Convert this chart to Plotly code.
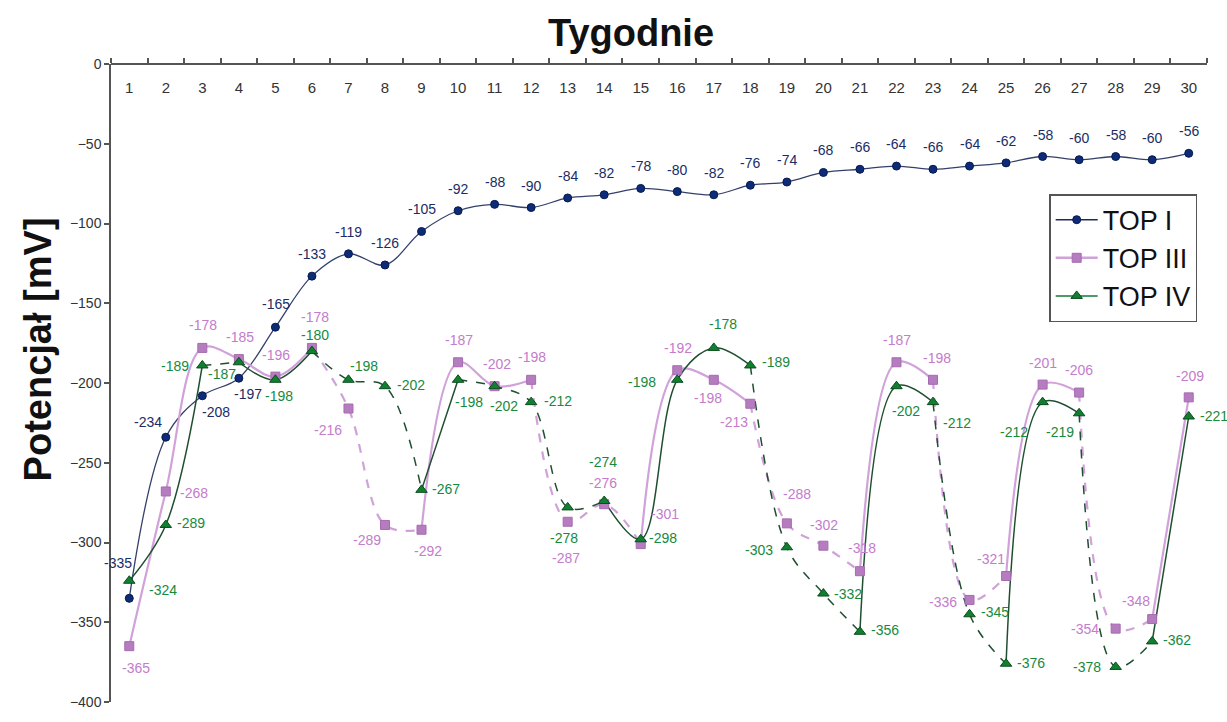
import plotly.graph_objects as go

# ---------------- data ----------------
weeks = list(range(1, 31))
week_labels = [str(w) for w in weeks]

top1 = [-335, -234, -208, -197, -165, -133, -119, -126, -105, -92,
        -88, -90, -84, -82, -78, -80, -82, -76, -74, -68,
        -66, -64, -66, -64, -62, -58, -60, -58, -60, -56]
top3 = [-365, -268, -178, -185, -196, -178, -216, -289, -292, -187,
        -202, -198, -287, -276, -301, -192, -198, -213, -288, -302,
        -318, -187, -198, -336, -321, -201, -206, -354, -348, -209]
top4 = [-324, -289, -189, -187, -198, -180, -198, -202, -267, -198,
        -202, -212, -278, -274, -298, -198, -178, -189, -303, -332,
        -356, -202, -212, -345, -376, -212, -219, -378, -362, -221]

series_names = ["TOP I", "TOP III", "TOP IV"]
y_ticks = [0, -50, -100, -150, -200, -250, -300, -350, -400]

# segment styles between consecutive weeks (s = solid, d = dashed)
seg1 = "s" * 29
seg3 = "sssss" "ddd" "sss" "ddd" "sss" "ddd" "ss" "dd" "ss" "dd" "s"
seg4 = "ss" "d" "ss" "ddd" "s" "dddd" "ssss" "ddd" "ss" "dd" "ss" "dd" "s"

# label offsets in pixels (dx right, dy down) relative to each marker
off1 = [(-11, -35), (-18, -15), (14, 16), (9, 16), (1, -23)] + [(0, -22)] * 25
off3 = [(7, 22), (28, 2), (1, -23), (1, -22), (1, -22), (3, -31), (-20, 21), (-18, 15),
        (6, 21), (1, -22), (2, -22), (1, -23), (-2, 36), (-1, -21), (24, -30),
        (1, -22), (-6, 18), (-16, 18), (10, -29), (1, -21), (2, -23), (1, -22),
        (4, -22), (-27, 2), (-15, -17), (0, -22), (0, -23), (-31, 0), (-16, -18), (1, -21)]
off4 = [(34, 9), (25, -2), (-27, 1), (-17, 12), (4, 16), (3, -16), (16, -14), (26, -1),
        (24, -1), (11, 22), (9, 20), (27, -1), (-4, 31), (-1, -39), (22, -1),
        (-35, 2), (9, -24), (26, -3), (-28, 3), (25, 0), (25, -2), (10, 25),
        (24, 21), (25, -2), (25, -1), (-29, 30), (-19, 19), (-29, 0), (25, -1), (25, -1)]

# ---------------- styles ----------------
LABEL_FONT = "Liberation Sans, Arial"
styles = [
    dict(line="#34406a", lw=1.3, mcolor="#0d2b78", mline="#061a4d", symbol="circle", msize=8,
         tcolor="#1b2c66", legline="#1b2c5c"),
    dict(line="#d0a2d9", lw=2.2, mcolor="#b67cc0", mline="#a66ab0", symbol="square", msize=9,
         tcolor="#c47ccc", legline="#d0a2d9"),
    dict(line="#1f4f30", lw=1.5, mcolor="#108030", mline="#0b4d1e", symbol="triangle-up", msize=10,
         tcolor="#168a3e", legline="#157a35"),
]

fig = go.Figure()


def runs(seg):
    out = []
    start = 0
    for i in range(1, len(seg) + 1):
        if i == len(seg) or seg[i] != seg[start]:
            out.append((start, i, seg[start]))
            start = i
    return out


all_vals = [top1, top3, top4]
all_segs = [seg1, seg3, seg4]
all_offs = [off1, off3, off4]

# lines
for vals, seg, st in zip(all_vals, all_segs, styles):
    for a, b, kind in runs(seg):
        fig.add_trace(go.Scatter(
            x=weeks[a:b + 1], y=vals[a:b + 1], mode="lines",
            line=dict(color=st["line"], width=st["lw"], shape="spline", smoothing=1.0,
                      dash="solid" if kind == "s" else "dash"),
            showlegend=False, hoverinfo="skip"))

# markers
for vals, st, name in zip(all_vals, styles, series_names):
    fig.add_trace(go.Scatter(
        x=weeks, y=vals, mode="markers",
        marker=dict(symbol=st["symbol"], size=st["msize"], color=st["mcolor"],
                    line=dict(color=st["mline"], width=1)),
        showlegend=False, name=name))

# legend entries
for st, name in zip(styles, series_names):
    fig.add_trace(go.Scatter(
        x=[None], y=[None], mode="lines+markers", name=name,
        line=dict(color=st["legline"], width=1.5 if name != "TOP III" else 2.5),
        marker=dict(symbol=st["symbol"], size=st["msize"], color=st["mcolor"],
                    line=dict(color=st["mline"], width=1))))

# data labels
annotations = []
for vals, offs, st in zip(all_vals, all_offs, styles):
    for w, v, (dx, dy) in zip(weeks, vals, offs):
        annotations.append(dict(
            x=w, y=v, xref="x", yref="y", text=str(v), showarrow=False,
            xshift=dx, yshift=-dy, xanchor="center", yanchor="middle",
            font=dict(family=LABEL_FONT, size=14, color=st["tcolor"])))

annotations += [
    dict(text="<b>Tygodnie</b>", xref="paper", yref="paper", x=0.4745, y=1.048,
         xanchor="center", yanchor="middle", showarrow=False,
         font=dict(family="Liberation Sans, Arial", size=38, color="#111")),
    dict(text="<b>Potencjał [mV]</b>", xref="paper", yref="paper", x=-0.067, y=0.552,
         xanchor="center", yanchor="middle", textangle=-90, showarrow=False,
         font=dict(family="Liberation Sans, Arial", size=38, color="#111")),
]

fig.update_layout(
    width=1227, height=722,
    paper_bgcolor="white", plot_bgcolor="white",
    margin=dict(l=111, r=20, t=64, b=17),
    font=dict(family="Liberation Sans, Arial", color="#333"),
    showlegend=True,
    legend=dict(x=0.856, y=0.796, xanchor="left", yanchor="top",
                bgcolor="white", bordercolor="#555", borderwidth=1.5,
                font=dict(family="Liberation Sans, Arial", size=27, color="#111"),
                itemwidth=42),
    xaxis=dict(side="bottom", anchor="free", position=1.0,
               range=[0.5, 30.5], tickmode="array", tickvals=weeks,
               ticktext=week_labels, ticks="", ticklabelstandoff=10,
               tickfont=dict(family=LABEL_FONT, size=15, color="#333"),
               showline=True, linecolor="#555", linewidth=1.5, showgrid=False, zeroline=False,
               automargin=False,
               minor=dict(tick0=0.5, dtick=1, ticks="inside", ticklen=5, tickcolor="#555",
                          tickwidth=1.5, showgrid=False)),
    yaxis=dict(range=[-400, 0], tickmode="array", tickvals=y_ticks,
               ticks="outside", ticklen=5, tickcolor="#555", tickwidth=1.5,
               tickfont=dict(family=LABEL_FONT, size=14, color="#333"),
               showline=True, linecolor="#555", linewidth=1.5, showgrid=False, zeroline=False),
    annotations=annotations,
)

fig.write_html("out.html", config={"displayModeBar": False},
               post_script="document.body.style.margin='0';document.body.style.overflow='hidden';")
